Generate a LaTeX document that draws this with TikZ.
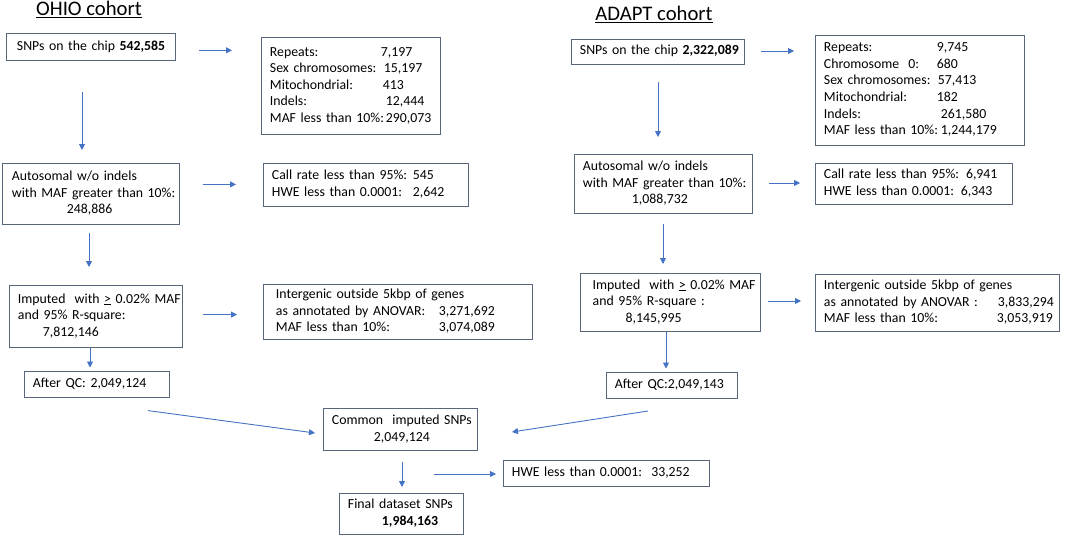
\documentclass[tikz,border=0pt]{standalone}
\usepackage{fontspec}
\setmainfont{Carlito}
\usetikzlibrary{arrows.meta}
\definecolor{boxc}{RGB}{88,102,122}
\definecolor{arrc}{RGB}{68,114,196}
\newcommand{\tl}[1]{\begin{tabular}{@{}l@{}}#1\end{tabular}}
\tikzset{
  box/.style={draw=boxc, line width=0.9pt, anchor=north west, align=left,
    inner xsep=8.5pt, inner ysep=0pt, font=\fontsize{13.8}{16.6}\selectfont},
  arr/.style={draw=arrc, line width=0.9pt, -{Triangle[length=6pt,width=6pt]}},
  ttl/.style={anchor=base, inner sep=0pt, font=\fontsize{20.7}{24}\selectfont}
}
\begin{document}
\begin{tikzpicture}[x=1pt,y=-1pt]
\useasboundingbox (0,0) rectangle (1065,538);
% titles
\node[ttl] (t1) at (89,15.5) {\underline{OHIO cohort}};
\node[ttl] (t2) at (654,20.8) {\underline{ADAPT cohort}};
% OHIO boxes
\node[box, minimum width=169pt, minimum height=27pt, text width=148pt, inner xsep=10.5pt] (s1) at (6,33)
  {\tl{SNPs on the chip \textbf{542,585}}};
\node[box, minimum width=179pt, minimum height=97pt, text width=162pt] (r1) at (261,37)
  {\tl{\makebox[111pt][l]{Repeats:}7,197\\
   \makebox[114pt][l]{Sex chromosomes:}15,197\\
   \makebox[113pt][l]{Mitochondrial:}413\\
   \makebox[116pt][l]{Indels:}12,444\\
   \makebox[116pt][l]{MAF less than 10\%:}290,073}};
\node[box, minimum width=177pt, minimum height=61pt, text width=158pt, inner xsep=9.5pt] (a1) at (2,163)
  {\tl{Autosomal w/o indels\\with MAF greater than 10\%:\\\hspace*{55pt}248,886}};
\node[box, minimum width=205pt, minimum height=43pt, text width=188pt] (c1) at (263,163)
  {\tl{\makebox[141pt][l]{Call rate less than 95\%:}545\\
   \makebox[141pt][l]{HWE less than 0.0001:}2,642}};
\node[box, minimum width=173pt, minimum height=62pt, text width=156pt] (i1) at (9,285)
  {\tl{Imputed\ \ with \underline{>} 0.02\% MAF\\and 95\% R-square:\\\hspace*{25pt}7,812,146}};
\node[box, minimum width=269pt, minimum height=55pt, text width=244pt, inner xsep=12.5pt] (g1) at (263,284)
  {\tl{Intergenic outside 5kbp of genes\\
   \makebox[163pt][l]{as annotated by ANOVAR:}3,271,692\\
   \makebox[163pt][l]{MAF less than 10\%:}3,074,089}};
\node[box, minimum width=145pt, minimum height=26pt, text width=128pt] (q1) at (24,371)
  {\tl{After QC: 2,049,124}};
% common
\node[box, minimum width=154pt, minimum height=42pt, text width=137pt] (cm) at (323,408)
  {\tl{Common\ \ imputed SNPs\\\hspace*{42pt}2,049,124}};
\node[box, minimum width=124pt, minimum height=41pt, text width=107pt] (fn) at (339,493)
  {\tl{Final dataset SNPs\\\hspace*{34pt}\textbf{1,984,163}}};
\node[box, minimum width=206pt, minimum height=26pt, text width=189pt] (hw) at (503,460)
  {\tl{HWE less than 0.0001:\ \ 33,252}};
% ADAPT boxes
\node[box, minimum width=173pt, minimum height=25pt, text width=156pt] (s2) at (571,38.5)
  {\tl{SNPs on the chip \textbf{2,322,089}}};
\node[box, minimum width=209pt, minimum height=110pt, text width=192pt] (r2) at (815,34.5)
  {\tl{\makebox[113pt][l]{Repeats:}9,745\\
   \makebox[113pt][l]{Chromosome\ \ 0:}680\\
   \makebox[114pt][l]{Sex chromosomes:}57,413\\
   \makebox[113pt][l]{Mitochondrial:}182\\
   \makebox[117pt][l]{Indels:}261,580\\
   \makebox[117pt][l]{MAF less than 10\%:}1,244,179}};
\node[box, minimum width=178pt, minimum height=59pt, text width=161pt] (a2) at (574,154)
  {\tl{Autosomal w/o indels\\with MAF greater than 10\%:\\\hspace*{49pt}1,088,732}};
\node[box, minimum width=197pt, minimum height=41pt, text width=180pt] (c2) at (815,163)
  {\tl{Call rate less than 95\%: 6,941\\HWE less than 0.0001: 6,343}};
\node[box, minimum width=180.5pt, minimum height=58pt, text width=155pt, inner xsep=12.75pt] (i2) at (579.5,273)
  {\tl{Imputed\ \ with \underline{>} 0.02\% MAF\\and 95\% R-square :\\\hspace*{33pt}8,145,995}};
\node[box, minimum width=244pt, minimum height=57pt, text width=227pt] (g2) at (815,274)
  {\tl{Intergenic outside 5kbp of genes\\
   \makebox[174pt][l]{as annotated by ANOVAR :}3,833,294\\
   \makebox[173pt][l]{MAF less than 10\%:}3,053,919}};
\node[box, minimum width=131pt, minimum height=26pt, text width=114pt] (q2) at (606,372)
  {\tl{After QC:2,049,143}};
% arrow end points
\coordinate (e1a) at (199,50.3);   \coordinate (e1b) at (232,50.3);
\coordinate (e2a) at (82,92);      \coordinate (e2b) at (82,150);
\coordinate (e3a) at (202.5,184.4);\coordinate (e3b) at (236,184.4);
\coordinate (e4a) at (89,232.6);   \coordinate (e4b) at (89,267);
\coordinate (e5a) at (202.5,314.6);\coordinate (e5b) at (237,314.6);
\coordinate (e6b) at (90,367.5);
\coordinate (e7a) at (148,410.6);  \coordinate (e7b) at (315,433);
\coordinate (e8a) at (648,411);    \coordinate (e8b) at (512,432);
\coordinate (e9a) at (402,462);    \coordinate (e9b) at (402,487);
\coordinate (e10a) at (434,474);   \coordinate (e10b) at (496,474);
\coordinate (f1a) at (761,51);     \coordinate (f1b) at (794,51);
\coordinate (f2a) at (658,82);     \coordinate (f2b) at (658,137);
\coordinate (f3a) at (769,183);    \coordinate (f3b) at (800,183);
\coordinate (f4a) at (663,224);    \coordinate (f4b) at (663,264);
\coordinate (f5a) at (767.6,301);  \coordinate (f5b) at (801,301);
\coordinate (f6b) at (666,368.5);
% arrows
\draw[arr] (e1a) -- (e1b);
\draw[arr] (e2a) -- (e2b);
\draw[arr] (e3a) -- (e3b);
\draw[arr] (e4a) -- (e4b);
\draw[arr] (e5a) -- (e5b);
\draw[arr] (i1.south -| e6b) -- (e6b);
\draw[arr] (e7a) -- (e7b);
\draw[arr] (e8a) -- (e8b);
\draw[arr] (e9a) -- (e9b);
\draw[arr] (e10a) -- (e10b);
\draw[arr] (f1a) -- (f1b);
\draw[arr] (f2a) -- (f2b);
\draw[arr] (f3a) -- (f3b);
\draw[arr] (f4a) -- (f4b);
\draw[arr] (f5a) -- (f5b);
\draw[arr] (i2.south -| f6b) -- (f6b);
\end{tikzpicture}
\end{document}
